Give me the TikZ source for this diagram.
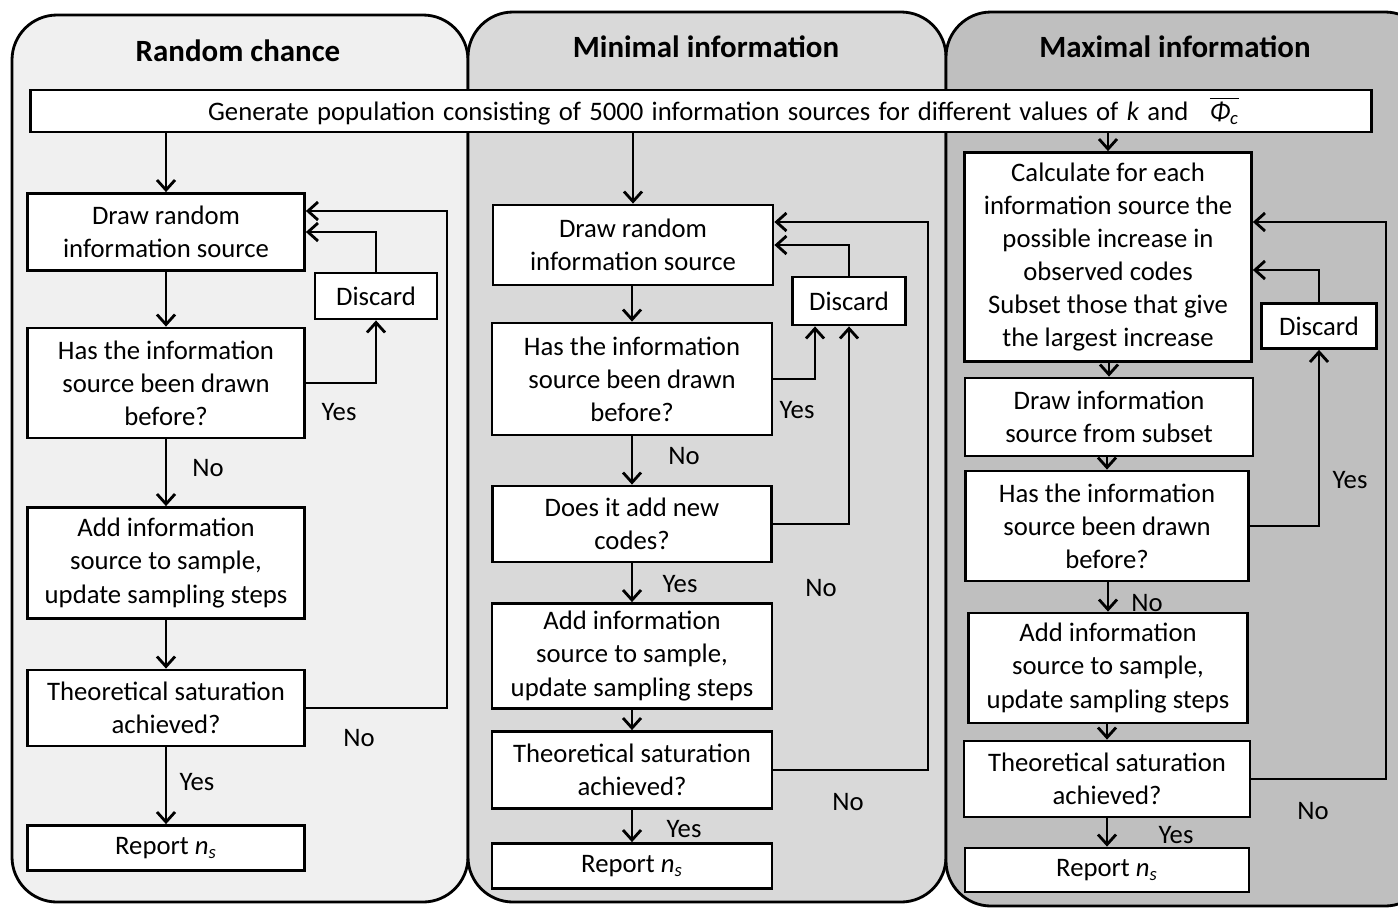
\documentclass[tikz,border=0pt]{standalone}
\usepackage{amsmath}
\usepackage{fontspec}
\setmainfont{Carlito}
\usetikzlibrary{arrows.meta}

\begin{document}
\begin{tikzpicture}[x=0.02cm,y=-0.02cm,>={Straight Barb[length=2mm,width=3.6mm]},
  box/.style={draw=black,line width=1.6pt,fill=white,align=center,font=\fontsize{15.2}{18.8}\selectfont,inner sep=2pt},
  lane/.style={draw=black,line width=1.6pt,rounded corners=0.9cm},
  ttl/.style={font=\fontsize{17.6}{20}\selectfont\bfseries},
  lbl/.style={font=\fontsize{15.2}{17}\selectfont},
  arr/.style={->,line width=1.6pt}]
\clip (0,0) rectangle (1398,907);
\fill[white] (0,0) rectangle (1398,907);
% three lanes
\draw[lane,fill=black!6] (12,15) rectangle (468,902);
\draw[lane,fill=black!15] (468,12) rectangle (946,902);
\draw[lane,fill=black!25] (946,12) rectangle (1430,906);
\node[ttl] (t1) at (238,51) {Random chance};
\node[ttl] (t2) at (706,47) {Minimal information};
\node[ttl] (t3) at (1175,47) {Maximal information};
\node[box,minimum width=26.84cm,minimum height=0.84cm] (gen) at (701,111) {\spaceskip=0.31em plus 0.1em\relax\hspace*{0.9cm}Generate population consisting of 5000 information sources for different values of \textit{k} and \enspace$\overline{\text{\textit{Φ}}_{\text{\textit{c}}}}$};
% random chance
\node[box,minimum width=5.54cm,minimum height=1.54cm] (a1) at (166,232) {Draw random\\information source};
\node[box,minimum width=2.44cm,minimum height=0.92cm] (dc1) at (376,296) {Discard};
\node[box,minimum width=5.54cm,minimum height=2.2cm] (b1) at (166,383) {Has the information\\source been drawn\\before?};
\node[box,minimum width=5.54cm,minimum height=2.22cm] (c1) at (166,563) {Add information\\source to sample,\\update sampling steps};
\node[box,minimum width=5.54cm,minimum height=1.52cm] (d1) at (166,708) {Theoretical saturation\\achieved?};
\node[box,minimum width=5.54cm,minimum height=0.9cm] (e1) at (166,848) {Report \textit{n}\textsubscript{\textit{s}}};
\draw[arr] (gen.south -| a1.north) -- (a1.north);
\draw[arr] (a1) -- (b1);
\draw[arr] (b1) -- (c1);
\draw[arr] (c1) -- (d1);
\draw[arr] (d1) -- (e1);
\draw[arr] (b1.east) -| (dc1.south);
\draw[arr] (dc1.north) |- (a1.east);
\coordinate (r1) at (447,211);
\draw[arr] (d1.east) -| (r1) -- (a1.east |- r1);
\node[lbl] (l1) at (339,412) {Yes};
\node[lbl] (l2) at (208,468) {No};
\node[lbl] (l3) at (359,738) {No};
\node[lbl] (l4) at (197,782) {Yes};
% minimal information
\node[box,minimum width=5.6cm,minimum height=1.6cm] (a2) at (633,245) {Draw random\\information source};
\node[box,minimum width=2.26cm,minimum height=0.96cm] (dc2) at (849,301) {Discard};
\node[box,minimum width=5.6cm,minimum height=2.24cm] (b2) at (632,379) {Has the information\\source been drawn\\before?};
\node[box,minimum width=5.58cm,minimum height=1.52cm] (c2) at (632,524) {Does it add new\\codes?};
\node[box,minimum width=5.6cm,minimum height=2.1cm] (d2) at (632,656) {Add information\\source to sample,\\update sampling steps};
\node[box,minimum width=5.6cm,minimum height=1.54cm] (e2) at (632,770) {Theoretical saturation\\achieved?};
\node[box,minimum width=5.6cm,minimum height=0.9cm] (f2) at (632,866) {Report \textit{n}\textsubscript{\textit{s}}};
\draw[arr] (gen.south -| a2.north) -- (a2.north);
\draw[arr] (a2.south -| b2.north) -- (b2.north);
\draw[arr] (b2) -- (c2);
\draw[arr] (c2) -- (d2);
\draw[arr] (d2) -- (e2);
\draw[arr] (e2) -- (f2);
\draw[arr] (b2.east) -| ([xshift=-0.68cm]dc2.south);
\draw[arr] (c2.east) -| (dc2.south);
\draw[arr] (dc2.north) |- (a2.east);
\coordinate (r2) at (928,222);
\draw[arr] (e2.east) -| (r2) -- (a2.east |- r2);
\node[lbl] (l5) at (797,410) {Yes};
\node[lbl] (l6) at (684,456) {No};
\node[lbl] (l7) at (680,584) {Yes};
\node[lbl] (l8) at (821,588) {No};
\node[lbl] (l9) at (848,802) {No};
\node[lbl] (l10) at (684,829) {Yes};
% maximal information
\node[box,minimum width=5.74cm,minimum height=4.18cm] (a3) at (1108,257) {Calculate for each\\information source the\\possible increase in\\observed codes\\Subset those that give\\the largest increase};
\node[box,minimum width=2.3cm,minimum height=0.9cm] (dc3) at (1319,326) {Discard};
\node[box,minimum width=5.76cm,minimum height=1.56cm] (b3) at (1109,417) {Draw information\\source from subset};
\node[box,minimum width=5.66cm,minimum height=2.2cm] (c3) at (1107,526) {Has the information\\source been drawn\\before?};
\node[box,minimum width=5.58cm,minimum height=2.2cm] (d3) at (1108,668) {Add information\\source to sample,\\update sampling steps};
\node[box,minimum width=5.72cm,minimum height=1.52cm] (e3) at (1107,779) {Theoretical saturation\\achieved?};
\node[box,minimum width=5.68cm,minimum height=0.88cm] (f3) at (1107,870) {Report \textit{n}\textsubscript{\textit{s}}};
\draw[arr] (gen.south -| a3.north) -- (a3.north);
\draw[arr] (a3.south -| b3.north) -- (b3.north);
\draw[arr] (b3.south -| c3.north) -- (c3.north);
\draw[arr] (c3.south -| d3.north) -- (d3.north);
\draw[arr] (d3.south -| e3.north) -- (e3.north);
\draw[arr] (e3) -- (f3);
\draw[arr] (c3.east) -| (dc3.south);
\coordinate (q3) at (1319,270);
\draw[arr] (dc3.north) -- (q3) -- (a3.east |- q3);
\coordinate (r3) at (1386,222);
\draw[arr] (e3.east) -| (r3) -- (a3.east |- r3);
\node[lbl] (l11) at (1350,480) {Yes};
\node[lbl] (l12) at (1147,603) {No};
\node[lbl] (l13) at (1313,811) {No};
\node[lbl] (l14) at (1176,835) {Yes};
\end{tikzpicture}
\end{document}
